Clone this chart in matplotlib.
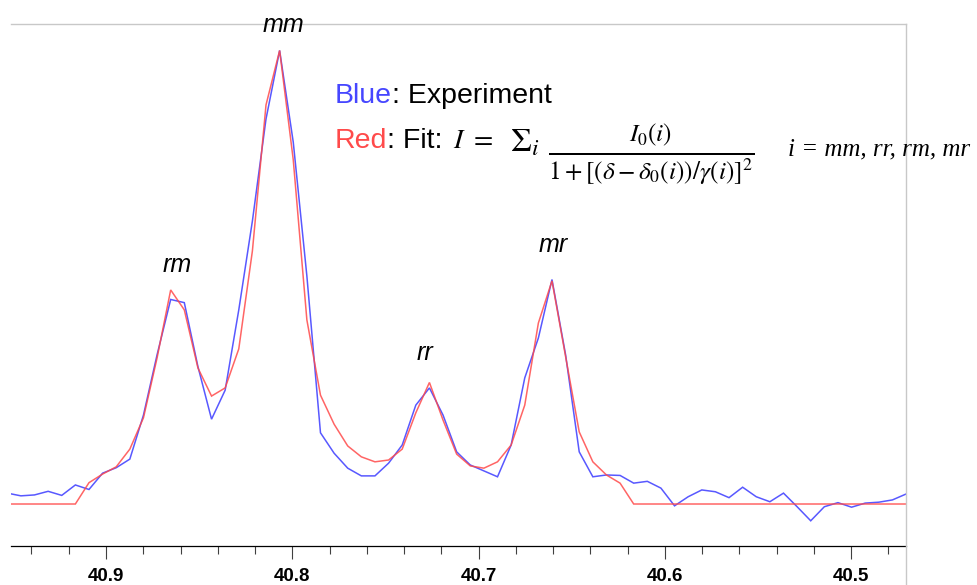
import numpy as np
import matplotlib
matplotlib.use("Agg")
import matplotlib.pyplot as plt
from matplotlib.ticker import MultipleLocator
from matplotlib.lines import Line2D
from matplotlib import font_manager

# 13C chemical-shift grid (ppm), uniform digital resolution, listed high -> low
ppm_first = 40.9530
ppm_step = 0.007311
n_points = 67
ppm = ppm_first - ppm_step * np.arange(n_points)

# Experimental spectrum (normalised intensity, mm peak = 100)
experiment = [2.4, 1.8, 2.0, 2.8, 1.9, 4.2, 3.2, 6.8, 8.0, 9.9,
              19.6, 32.9, 45.1, 44.4, 30.3, 18.7, 25.1, 42.8, 62.4, 84.9,
              100.0, 79.8, 50.3, 15.7, 11.2, 7.9, 6.2, 6.2, 9.0, 13.0,
              21.8, 25.6, 19.6, 11.5, 8.6, 7.3, 6.0, 13.0, 27.8, 36.6,
              49.5, 32.9, 11.5, 6.0, 6.4, 6.3, 4.6, 5.0, 3.5, -0.4,
              1.6, 3.1, 2.7, 1.4, 3.7, 1.6, 0.5, 2.4, -0.6, -3.7,
              -0.6, 0.3, -0.7, 0.2, 0.4, 0.9, 2.2]

# Lorentzian fit (sum of four triad lines), baseline outside the fit window
fit = [0.0, 0.0, 0.0, 0.0, 0.0, 0.0, 4.7, 6.6, 8.2, 12.1,
       19.0, 32.2, 47.2, 42.8, 30.0, 23.8, 25.6, 34.2, 55.8, 88.0,
       100.0, 75.9, 40.6, 24.0, 17.6, 12.8, 10.4, 9.3, 9.7, 12.1,
       20.1, 26.8, 18.5, 11.0, 8.4, 7.9, 9.3, 13.0, 21.8, 39.9,
       49.2, 32.5, 15.9, 9.3, 6.4, 4.6, 0.0, 0.0, 0.0, 0.0,
       0.0, 0.0, 0.0, 0.0, 0.0, 0.0, 0.0, 0.0, 0.0, 0.0,
       0.0, 0.0, 0.0, 0.0, 0.0, 0.0, 0.0]

# Triad assignments: label, ppm, intensity position of the label
peak_labels = ["mm", "rm", "rr", "mr"]
peak_label_ppm = [40.8049, 40.8618, 40.7287, 40.6600]
peak_label_int = [105.6, 52.7, 33.3, 57.1]

tick_values = [40.9, 40.8, 40.7, 40.6, 40.5]

BLUE = "#4646ff"
RED = "#ff4a4a"
GREY = "#c8c8c8"

W, H = 978, 585
fig = plt.figure(figsize=(W / 100, H / 100), dpi=100)
fig.patch.set_facecolor("white")


def fx(px):
    return px / W


def fy(py):
    return 1 - py / H


ax = fig.add_axes([fx(11), fy(546), fx(906) - fx(11), fy(24) - fy(546)])
ax.plot(ppm, experiment, color=BLUE, lw=1.1, alpha=0.9, solid_joinstyle="miter")
ax.plot(ppm, fit, color=RED, lw=1.1, alpha=0.85, solid_joinstyle="miter")

ax.set_xlim(40.951, 40.4705)
ax.set_ylim(-9.26, 105.84)

for side in ("left", "right"):
    ax.spines[side].set_visible(False)
ax.spines["top"].set_color(GREY)
ax.spines["top"].set_linewidth(1.0)
ax.spines["bottom"].set_color("black")
ax.spines["bottom"].set_linewidth(0.9)

# right-hand frame line continues to the bottom of the figure
fig.add_artist(Line2D([fx(906), fx(906)], [0, fy(24)], color=GREY, lw=1.0,
                      transform=fig.transFigure))

# tick label font: narrow bold if available
names = {f.name for f in font_manager.fontManager.ttflist}
if "Liberation Sans Narrow" in names:
    tick_font = dict(family="Liberation Sans Narrow", weight="bold", size=15)
    tick_pad = 6
else:
    tick_font = dict(family="Liberation Sans", weight="bold", size=13.5)
    tick_pad = 6.5

ax.yaxis.set_visible(False)
ax.xaxis.set_minor_locator(MultipleLocator(0.02))
ax.set_xticks(tick_values)
ax.set_xticklabels([f"{v:.1f}" for v in tick_values], fontdict=tick_font)
ax.tick_params(axis="x", which="major", direction="out", length=9.4, width=0.8,
               color="#404040", pad=tick_pad)
ax.tick_params(axis="x", which="minor", direction="out", length=5.5, width=0.8,
               color="#404040")
ax.tick_params(axis="x", which="both", top=False)

# triad labels
for lab, xp, yp in zip(peak_labels, peak_label_ppm, peak_label_int):
    ax.text(xp, yp, lab, ha="center", va="center", fontsize=18,
            family="Liberation Sans", style="italic", color="black",
            clip_on=False)

# key text
t1 = fig.text(fx(335), fy(103.3), "Blue", color=BLUE, fontsize=20.5,
              family="Liberation Sans", va="baseline", ha="left")
ax.annotate(": Experiment", xy=(1, 0), xycoords=t1, va="bottom", ha="left",
            fontsize=20.5, family="Liberation Sans", color="black")

t2 = fig.text(fx(335), fy(148.3), "Red", color=RED, fontsize=20.5,
              family="Liberation Sans", va="baseline", ha="left")
ax.annotate(": Fit: ", xy=(1, 0), xycoords=t2, va="bottom", ha="left",
            fontsize=20.5, family="Liberation Sans", color="black")

fig.text(fx(453), fy(148.3), r"$I\ =$", fontsize=20, math_fontfamily="stix",
         va="baseline", ha="left")
fig.text(fx(510), fy(151), r"$\Sigma_i$", fontsize=24, math_fontfamily="stix",
         va="baseline", ha="left")
fig.text(fx(548), fy(154.5),
         r"$\frac{I_0(i)}{1+[(\delta-\delta_0(i))/\gamma(i)]^2}$",
         fontsize=26, math_fontfamily="stix", va="center", ha="left")

fig.text(fx(788), fy(155), "i = mm, rr, rm, mr", fontsize=18,
         family="Liberation Serif", style="italic", va="baseline", ha="left")

fig.savefig("out.png", dpi=100, facecolor="white")
